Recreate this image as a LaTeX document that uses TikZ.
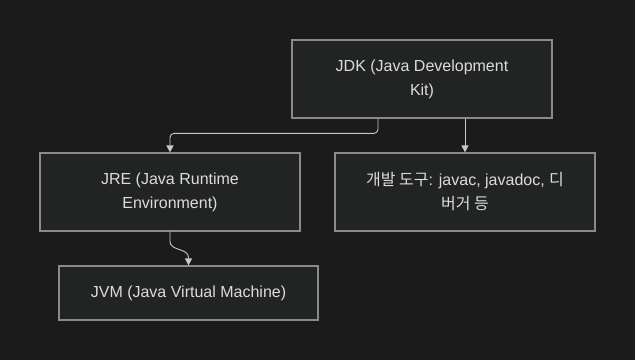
\documentclass[tikz,border=0pt]{standalone}
\usepackage{fontspec}
\setmainfont{Liberation Sans}
\newfontfamily\kofont{Noto Sans CJK KR}
\usepackage{tikz}
\usetikzlibrary{arrows.meta,positioning,calc}
\definecolor{canvas}{HTML}{1B1B1B}
\definecolor{boxfill}{HTML}{222323}
\definecolor{boxline}{HTML}{8A8A8A}
\definecolor{inktext}{HTML}{DCDCDC}
\definecolor{wire}{HTML}{C8C8C8}

\begin{document}
\begin{tikzpicture}[x=1pt,y=-1pt,
  block/.style={draw=boxline,fill=boxfill,line width=1.2pt,minimum width=260pt,
    minimum height=78pt,align=center,text=inktext,font=\fontsize{16}{24}\selectfont,
    inner sep=0pt},
  arrow/.style={-{Triangle[length=7pt,width=7pt]},draw=wire,line width=0.9pt}
]
\fill[canvas] (0,0) rectangle (635,360);
\useasboundingbox (0,0) rectangle (635,360);

\node[block] (jdk) at (422,79) {JDK (Java Development\\Kit)};
\node[block] (jre) at (170,192) {JRE (Java Runtime\\Environment)};
\node[block] (tools) at (465,192)
  {{\kofont 개발 도구}: javac, javadoc, {\kofont 디}\\{\kofont 버거 등}};
\node[block,minimum width=259pt,minimum height=54pt] (jvm) at (188.5,293)
  {JVM (Java Virtual Machine)};

\draw[arrow,rounded corners=4pt] ([xshift=-44pt]jdk.south) |- ([yshift=19pt]jre.north)
  -- (jre.north);
\draw[arrow] (jdk.south -| tools.north) -- (tools.north);
\draw[arrow] (jre.south) -- ([yshift=-10pt]jre.south)
  to[out=-90,in=90] ([yshift=8pt]jvm.north) -- (jvm.north);
\end{tikzpicture}
\end{document}
